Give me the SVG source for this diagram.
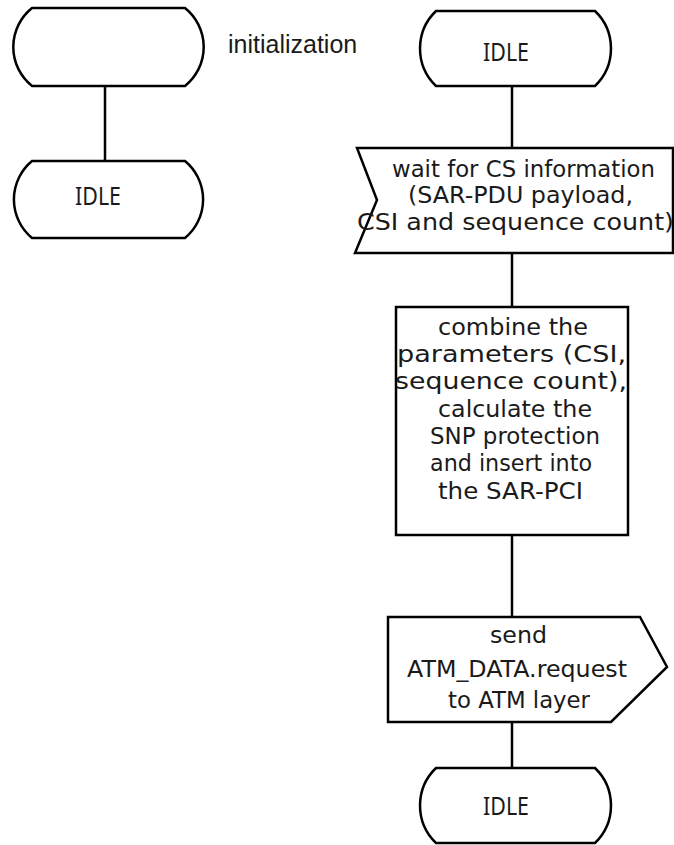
<svg xmlns="http://www.w3.org/2000/svg" width="674" height="845" viewBox="0 0 674 845">
<style>
.shape{fill:#fff;stroke:#000;stroke-width:2.5;stroke-linejoin:miter}
.conn{stroke:#000;stroke-width:2.5;fill:none}
.t{font-family:"DejaVu Sans",sans-serif;font-size:23px;fill:#1a1a1a}
.st{font-family:"Noto Sans",sans-serif;font-size:26px;fill:#1a1a1a}
.lbl{font-family:"Liberation Sans",Arial,sans-serif;font-size:25px;fill:#1a1a1a}
</style>
<rect width="674" height="845" fill="#fff"/>
<g id="connectors">
<line class="conn" x1="105" y1="86" x2="105" y2="161"/>
<line class="conn" x1="512" y1="86" x2="512" y2="148"/>
<line class="conn" x1="512" y1="253" x2="512" y2="307"/>
<line class="conn" x1="512" y1="535" x2="512" y2="617"/>
<line class="conn" x1="512" y1="722" x2="512" y2="768"/>
</g>
<g id="start-state">
<path class="shape" d="M32,8 H185 A50,50 0 0 1 185,86 H32 A50,50 0 0 1 32,8 Z"/>
</g>
<g id="init-label">
<text class="lbl" x="228" y="53">initialization</text>
</g>
<g id="idle-left">
<path class="shape" d="M32,161 H185 A50,50 0 0 1 185,238 H32 A50,50 0 0 1 32,161 Z"/>
<text class="st" x="75" y="205" textLength="46" lengthAdjust="spacingAndGlyphs">IDLE</text>
</g>
<g id="idle-top">
<path class="shape" d="M436,11 H595 A52,52 0 0 1 595,86 H436 A52,52 0 0 1 436,11 Z"/>
<text class="st" x="483" y="61" textLength="46" lengthAdjust="spacingAndGlyphs">IDLE</text>
</g>
<g id="input-wait">
<path class="shape" d="M357,148 H673 V253 H355 L377,200 Z"/>
<text class="t" x="392" y="177" textLength="263" lengthAdjust="spacingAndGlyphs">wait for CS information</text>
<text class="t" x="408" y="203" textLength="225" lengthAdjust="spacingAndGlyphs">(SAR-PDU payload,</text>
<text class="t" x="357" y="230" textLength="317" lengthAdjust="spacingAndGlyphs">CSI and sequence count)</text>
</g>
<g id="process-combine">
<rect class="shape" x="396" y="307" width="232" height="228"/>
<text class="t" x="438" y="335" textLength="150" lengthAdjust="spacingAndGlyphs">combine the</text>
<text class="t" x="397" y="362" textLength="229" lengthAdjust="spacingAndGlyphs">parameters (CSI,</text>
<text class="t" x="395" y="389" textLength="232" lengthAdjust="spacingAndGlyphs">sequence count),</text>
<text class="t" x="438" y="417" textLength="154" lengthAdjust="spacingAndGlyphs">calculate the</text>
<text class="t" x="430" y="444" textLength="170" lengthAdjust="spacingAndGlyphs">SNP protection</text>
<text class="t" x="430" y="471" textLength="162" lengthAdjust="spacingAndGlyphs">and insert into</text>
<text class="t" x="438" y="499" textLength="145" lengthAdjust="spacingAndGlyphs">the SAR-PCI</text>
</g>
<g id="output-send">
<path class="shape" d="M388,617 H640 L667,667 L611,722 H388 Z"/>
<text class="t" x="490" y="643" textLength="57" lengthAdjust="spacingAndGlyphs">send</text>
<text class="t" x="407" y="677" textLength="220" lengthAdjust="spacingAndGlyphs">ATM_DATA.request</text>
<text class="t" x="448" y="708" textLength="142" lengthAdjust="spacingAndGlyphs">to ATM layer</text>
</g>
<g id="idle-bottom">
<path class="shape" d="M436,768 H595 A52,52 0 0 1 595,843 H436 A52,52 0 0 1 436,768 Z"/>
<text class="st" x="483" y="815" textLength="46" lengthAdjust="spacingAndGlyphs">IDLE</text>
</g>
</svg>
